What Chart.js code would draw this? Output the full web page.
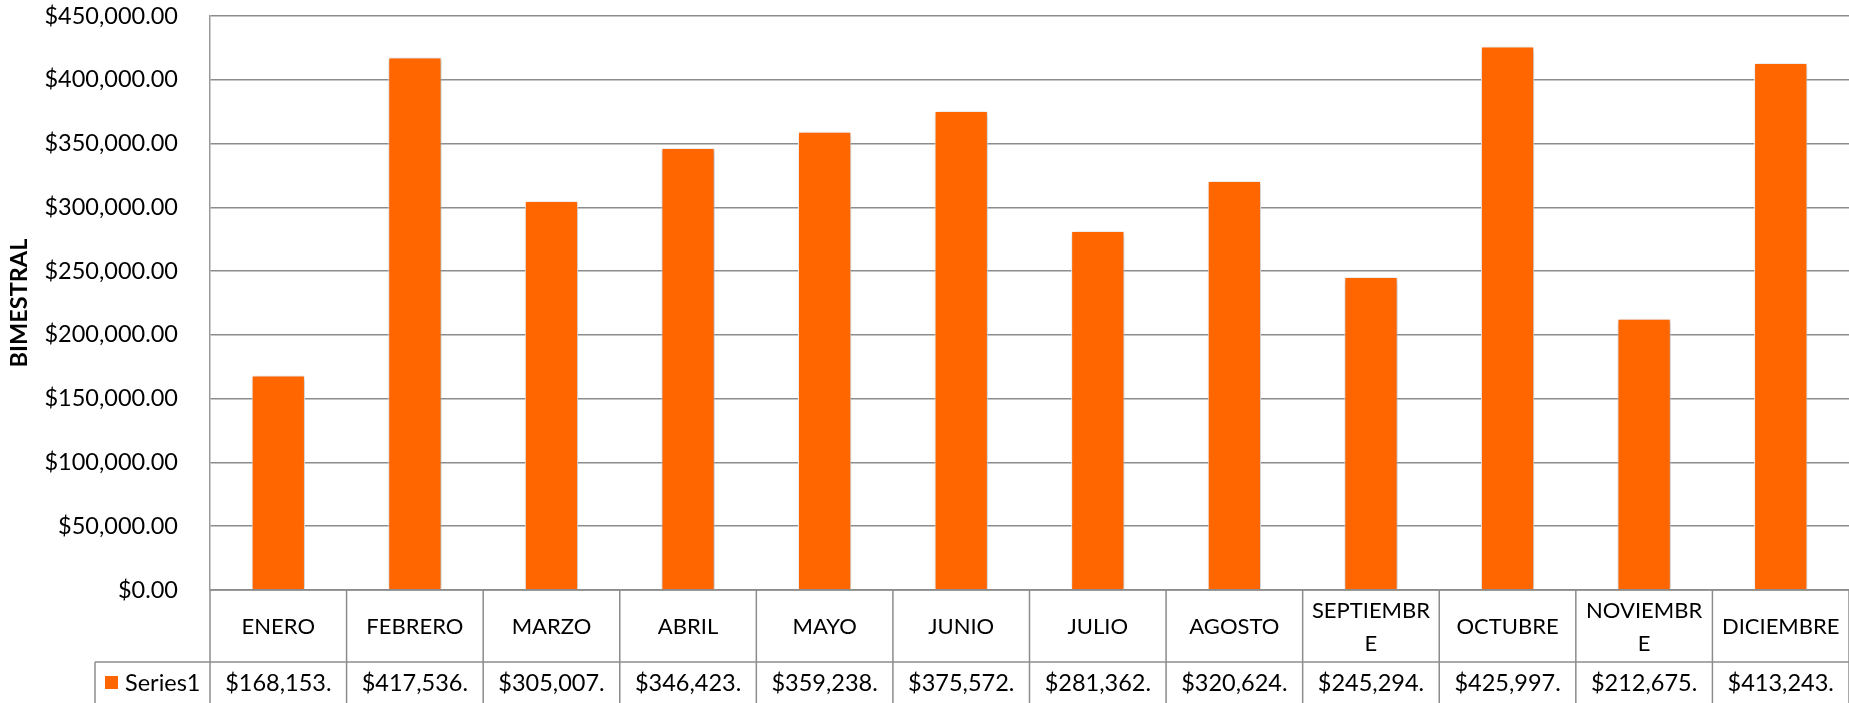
<!DOCTYPE html>
<html>
<head>
<meta charset="utf-8">
<script src="https://cdn.jsdelivr.net/npm/chart.js@4.4.1/dist/chart.umd.min.js"></script>
<style>
  html, body { margin: 0; padding: 0; background: #fff; }
  canvas { display: block; }
</style>
</head>
<body>
<canvas id="chart" width="1849" height="703"></canvas>
<script>
const months = ["ENERO", "FEBRERO", "MARZO", "ABRIL", "MAYO", "JUNIO", "JULIO",
  "AGOSTO", "SEPTIEMBRE", "OCTUBRE", "NOVIEMBRE", "DICIEMBRE"];
const series1 = [168153, 417536, 305007, 346423, 359238, 375572, 281362,
  320624, 245294, 425997, 212675, 413243];
const seriesName = "Series1";
const axisTitle = "BIMESTRAL";
const yMax = 450000;
const yStep = 50000;

const FONT = "Lato, 'Open Sans', sans-serif";
const ORANGE = "#ff6600";
const LINE = "#8c8c8c";

const money = (v) =>
  "$" + v.toLocaleString("en-US", { minimumFractionDigits: 2, maximumFractionDigits: 2 });

// cut characters off the end until the text fits the cell (spreadsheet style)
function fitText(ctx, s, maxW) {
  while (s.length > 1 && ctx.measureText(s).width > maxW) s = s.slice(0, -1);
  return s;
}

function wrapText(ctx, s, maxW) {
  const lines = [];
  let rest = s;
  while (rest.length) {
    let n = rest.length;
    while (n > 1 && ctx.measureText(rest.slice(0, n)).width > maxW) n--;
    lines.push(rest.slice(0, n));
    rest = rest.slice(n);
  }
  return lines;
}

// soft shadow behind the bars
const barShadow = {
  id: "barShadow",
  beforeDatasetsDraw(chart) {
    const ctx = chart.ctx;
    ctx.save();
    ctx.shadowColor = "rgba(0,0,0,0.35)";
    ctx.shadowBlur = 5;
    ctx.shadowOffsetX = 1;
    ctx.shadowOffsetY = 1;
  },
  afterDatasetsDraw(chart) {
    chart.ctx.restore();
  },
};

// data table under the plot + rotated axis title
const dataTable = {
  id: "dataTable",
  afterDraw(chart) {
    const { ctx, chartArea, scales } = chart;
    const x = scales.x;
    const n = months.length;
    const cw = (chartArea.right - chartArea.left) / n;
    const top = chartArea.bottom;
    const mid = top + 72;
    const bottom = chart.height + 20;
    const legendLeft = 95;

    const line = (x1, y1, x2, y2) => {
      ctx.beginPath();
      ctx.moveTo(x1, y1);
      ctx.lineTo(x2, y2);
      ctx.stroke();
    };

    ctx.save();
    ctx.strokeStyle = LINE;
    ctx.lineWidth = 1.5;
    line(chartArea.left, top, chartArea.right, top);
    line(legendLeft, mid, chartArea.right, mid);
    line(legendLeft, mid, legendLeft, bottom);
    for (let i = 0; i <= n; i++) {
      const xx = chartArea.left + i * cw;
      line(xx, top, xx, bottom);
    }

    ctx.fillStyle = "#000";
    ctx.textAlign = "center";
    ctx.textBaseline = "middle";
    ctx.font = "22px " + FONT;
    months.forEach((m, i) => {
      const cx = x.getPixelForValue(i);
      const lines = wrapText(ctx, m, cw - 12);
      const lh = 33;
      const y0 = (top + mid) / 2 + 1 - ((lines.length - 1) * lh) / 2;
      lines.forEach((t, k) => ctx.fillText(t, cx, y0 + k * lh));
    });

    ctx.font = "23.5px " + FONT;
    const rowY = mid + 21;
    series1.forEach((v, i) => {
      const cx = x.getPixelForValue(i);
      ctx.fillText(fitText(ctx, money(v), cw - 24), cx, rowY);
    });

    ctx.fillStyle = ORANGE;
    ctx.fillRect(105, rowY - 7, 13, 13);
    ctx.fillStyle = "#000";
    ctx.textAlign = "left";
    ctx.fillText(seriesName, 125, rowY);

    ctx.translate(19, (chartArea.top + chartArea.bottom) / 2);
    ctx.rotate(-Math.PI / 2);
    ctx.textAlign = "center";
    ctx.font = "bold 23.5px " + FONT;
    ctx.fillText(axisTitle, 0, 0);
    ctx.restore();
  },
};

new Chart(document.getElementById("chart"), {
  type: "bar",
  data: {
    labels: months,
    datasets: [
      {
        label: seriesName,
        data: series1,
        backgroundColor: ORANGE,
        borderColor: "#ffffff",
        borderWidth: 1,
        categoryPercentage: 1,
        barPercentage: 0.39,
      },
    ],
  },
  options: {
    responsive: false,
    animation: false,
    layout: { padding: { top: 16, bottom: 113, left: 0, right: 0 } },
    plugins: {
      legend: { display: false },
      tooltip: { enabled: false },
    },
    scales: {
      x: {
        display: false,
      },
      y: {
        min: 0,
        max: yMax,
        afterFit(scale) {
          scale.width = 210;
          scale.paddingTop = 0;
          scale.paddingBottom = 0;
        },
        ticks: {
          stepSize: yStep,
          padding: 32,
          color: "#000",
          font: { family: FONT, size: 23.5 },
          callback: (v) => money(v),
        },
        grid: {
          color: LINE,
          lineWidth: 1.5,
          drawTicks: false,
        },
        border: { color: "#999", width: 1.5 },
      },
    },
  },
  plugins: [barShadow, dataTable],
});
</script>
</body>
</html>
